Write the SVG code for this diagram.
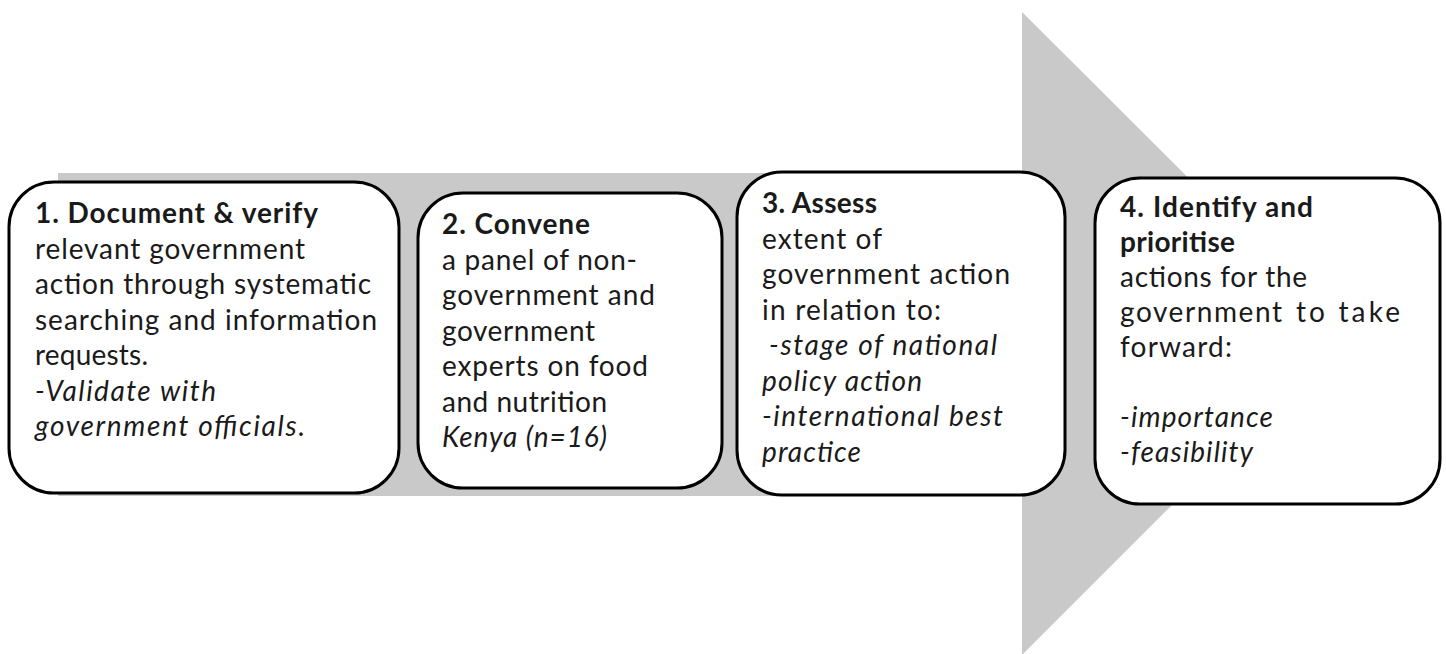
<svg xmlns="http://www.w3.org/2000/svg" width="1446" height="654" viewBox="0 0 1446 654">
<style>
.box{fill:#ffffff;stroke:#000000;stroke-width:3}
text{font-family:Lato,"Liberation Sans",sans-serif;font-size:28px;fill:#1a1a1a}
.b{font-weight:bold}
.i{font-style:italic}
.arrow{fill:#c9c9c9}
</style>
<rect width="1446" height="654" fill="#ffffff"/>
<g id="connectors">
<polygon class="arrow" points="58,173 1022,173 1022,12 1344,333 1022,655 1022,496 58,496"/>
</g>
<g id="node1">
<rect class="box" x="9" y="182" width="390" height="311" rx="45" ry="45"/>
<text x="35" y="223" class="b" textLength="283" lengthAdjust="spacing">1. Document &amp; verify</text>
<text x="35" y="258.5" textLength="270" lengthAdjust="spacing">relevant government</text>
<text x="35" y="294" textLength="336" lengthAdjust="spacing">action through systematic</text>
<text x="35" y="329.5" textLength="342" lengthAdjust="spacing">searching and information</text>
<text x="35" y="365" textLength="113" lengthAdjust="spacing">requests.</text>
<text x="35" y="400.5" class="i" textLength="181" lengthAdjust="spacing">-Validate with</text>
<text x="35" y="436" class="i" textLength="270" lengthAdjust="spacing">government officials.</text>
</g>
<g id="node2">
<rect class="box" x="418" y="193" width="304" height="295" rx="45" ry="45"/>
<text x="442" y="234" class="b" textLength="148" lengthAdjust="spacing">2. Convene</text>
<text x="442" y="269.5" textLength="195" lengthAdjust="spacing">a panel of non-</text>
<text x="442" y="305" textLength="213" lengthAdjust="spacing">government and</text>
<text x="442" y="340.5" textLength="153" lengthAdjust="spacing">government</text>
<text x="442" y="376" textLength="206" lengthAdjust="spacing">experts on food</text>
<text x="442" y="411.5" textLength="165" lengthAdjust="spacing">and nutrition</text>
<text x="442" y="447" class="i" textLength="165" lengthAdjust="spacing">Kenya (n=16)</text>
</g>
<g id="node3">
<rect class="box" x="737" y="172" width="328" height="323" rx="45" ry="45"/>
<text x="762" y="213" class="b" textLength="115" lengthAdjust="spacing">3. Assess</text>
<text x="762" y="248.5" textLength="120" lengthAdjust="spacing">extent of</text>
<text x="762" y="284" textLength="248" lengthAdjust="spacing">government action</text>
<text x="762" y="319.5" textLength="179" lengthAdjust="spacing">in relation to:</text>
<text x="769" y="355" class="i" textLength="228" lengthAdjust="spacing">-stage of national</text>
<text x="762" y="390.5" class="i" textLength="160" lengthAdjust="spacing">policy action</text>
<text x="762" y="426" class="i" textLength="241" lengthAdjust="spacing">-international best</text>
<text x="762" y="461.5" class="i" textLength="99" lengthAdjust="spacing">practice</text>
</g>
<g id="node4">
<rect class="box" x="1095" y="178" width="345" height="326" rx="45" ry="45"/>
<text x="1120" y="217" class="b" textLength="193" lengthAdjust="spacing">4. Identify and</text>
<text x="1120" y="252" class="b" textLength="115" lengthAdjust="spacing">prioritise</text>
<text x="1120" y="287" textLength="187" lengthAdjust="spacing">actions for the</text>
<text x="1120" y="322" textLength="162" lengthAdjust="spacing">government</text>
<text x="1296" y="322" textLength="104" lengthAdjust="spacing">to take</text>
<text x="1120" y="357" textLength="112" lengthAdjust="spacing">forward:</text>
<text x="1120" y="427" class="i" textLength="153" lengthAdjust="spacing">-importance</text>
<text x="1120" y="462" class="i" textLength="133" lengthAdjust="spacing">-feasibility</text>
</g>
</svg>
